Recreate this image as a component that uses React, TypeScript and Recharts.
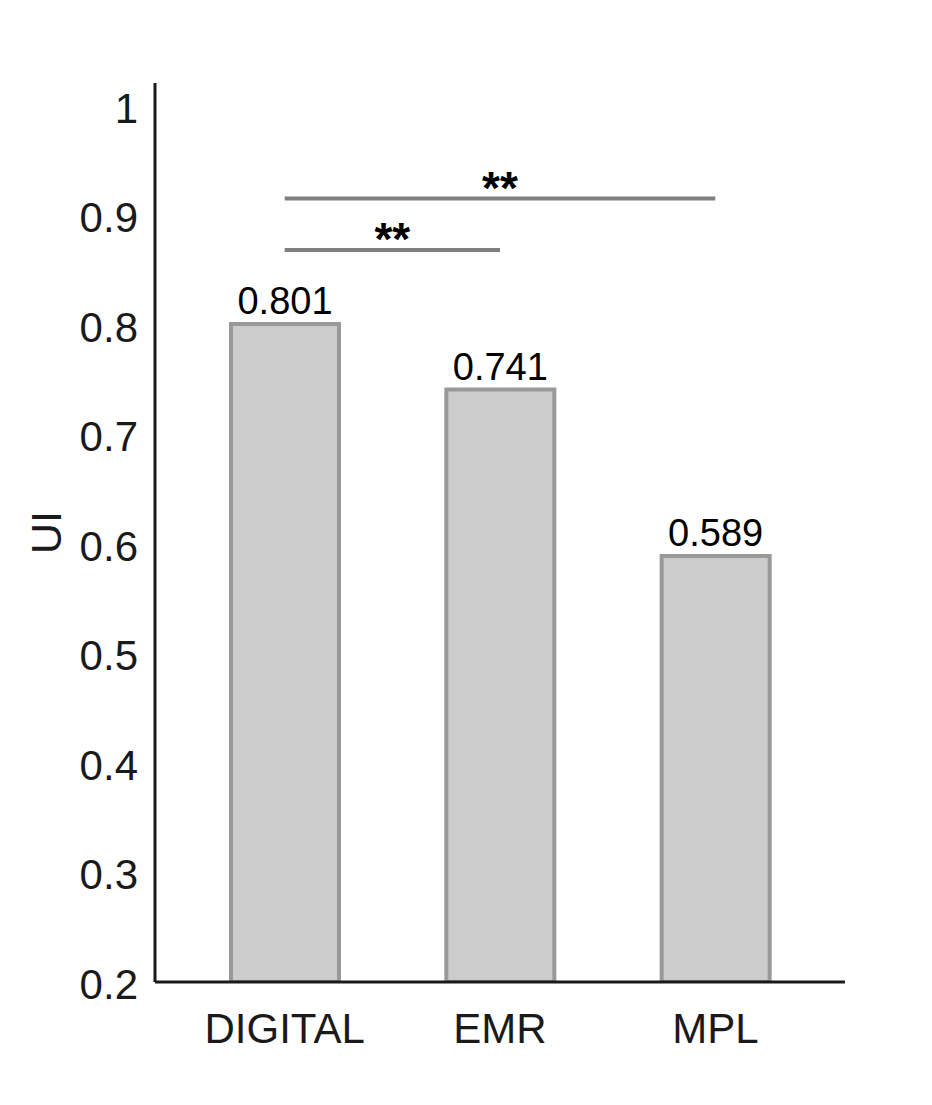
import React from "react"
import { BarChart, Bar, XAxis, YAxis, LabelList, ReferenceLine, Label } from "recharts"

const categories = ["DIGITAL", "EMR", "MPL"]
const uiValues = [0.801, 0.741, 0.589]
const yTicks = [0.2, 0.3, 0.4, 0.5, 0.6, 0.7, 0.8, 0.9, 1]

// significance brackets: from, to, height, label
const sigFrom = ["DIGITAL", "DIGITAL"]
const sigTo = ["MPL", "EMR"]
const sigLevel = [0.9155, 0.8685]
const sigText = ["**", "**"]

const data = categories.map((name, i) => ({ name, ui: uiValues[i] }))

const FONT = "'Liberation Sans', Arial, sans-serif"
const INK = "#1a1a1a"

const YTitle = (props: any) => {
  const vb = props.viewBox || {}
  const x = (vb.x ?? 0) + 46
  const y = (vb.y ?? 0) + (vb.height ?? 0) / 2
  return (
    <text
      x={x}
      y={y}
      transform={`rotate(-90, ${x}, ${y})`}
      textAnchor="middle"
      dominantBaseline="central"
      fontFamily={FONT}
      fontSize={43}
      fill={INK}
    >
      UI
    </text>
  )
}

const App: React.FC = () => {
  return (
    <div style={{ position: "absolute", left: 0, top: 0, width: 932, height: 1105, background: "#fff" }}>
      <BarChart
        width={932}
        height={1105}
        data={data}
        margin={{ top: 83, right: 87, bottom: 0, left: 0 }}
        style={{ fontFamily: FONT }}
      >
        <XAxis
          dataKey="name"
          height={123}
          padding={{ left: 22, right: 22 }}
          tickLine={false}
          tickSize={0}
          tickMargin={31}
          axisLine={{ stroke: INK, strokeWidth: 3 }}
          tick={{ fontSize: 42, fill: INK, fontFamily: FONT }}
        />
        <YAxis
          width={155}
          domain={[0.2, 1.021]}
          ticks={yTicks}
          allowDataOverflow
          tickLine={false}
          tickSize={0}
          tickMargin={17}
          axisLine={{ stroke: INK, strokeWidth: 3 }}
          tick={{ fontSize: 42, fill: INK, fontFamily: FONT, dy: 2 }}
        >
          <Label content={<YTitle />} />
        </YAxis>
        <Bar dataKey="ui" fill="#cccccc" stroke="#999999" strokeWidth={4} barSize={108} isAnimationActive={false}>
          <LabelList dataKey="ui" position="top" offset={10} fontSize={38} fill="#000" fontFamily={FONT} />
        </Bar>
        {sigLevel.map((lvl, i) => (
          <ReferenceLine
            key={i}
            segment={[
              { x: sigFrom[i], y: lvl },
              { x: sigTo[i], y: lvl },
            ]}
            stroke="#808080"
            strokeWidth={4}
            ifOverflow="visible"
          >
            <Label value={sigText[i]} position="top" offset={-5} fontSize={46} fontWeight="bold" fill="#000" fontFamily={FONT} />
          </ReferenceLine>
        ))}
      </BarChart>
    </div>
  )
}

export default App
